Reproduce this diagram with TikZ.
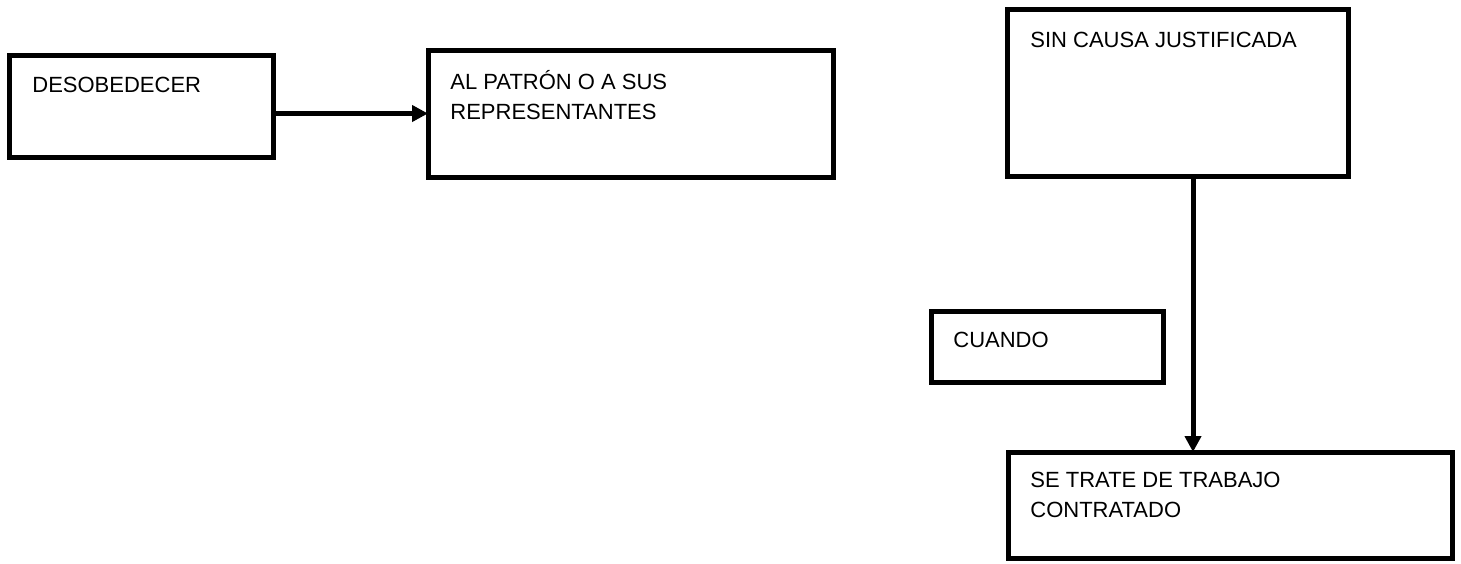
\documentclass[tikz,border=0pt]{standalone}
\usepackage{fontspec}
\setmainfont{Liberation Sans}
\usetikzlibrary{arrows.meta}
\tikzset{
    box/.style={draw, line width=2.5pt, inner sep=0pt, outer sep=0pt},
    txt/.style={inner sep=0pt, anchor=base west, align=left, font=\fontsize{11}{15}\selectfont},
    link/.style={line width=2.5pt, -{Triangle[length=8pt, width=8pt]}}
}
\begin{document}
\begin{tikzpicture}[x=0.5pt, y=-0.5pt]
    \useasboundingbox (0,0) rectangle (1461,563);

    \node[box, minimum width=132pt, minimum height=51pt]   (desobedecer) at (141,106)    {};
    \node[box, minimum width=202.5pt, minimum height=63.5pt] (patron)    at (630.5,113.5) {};
    \node[box, minimum width=170.5pt, minimum height=83.5pt] (causa)     at (1177.5,92.5) {};
    \node[box, minimum width=116pt, minimum height=35.5pt]  (cuando)     at (1047,346.5)  {};
    \node[box, minimum width=222pt, minimum height=53pt]    (trabajo)    at (1230,505)    {};

    % two-line labels sit on their last baseline
    \node[txt] (desobedecer-t) at (32,92)   {DESOBEDECER};
    \node[txt] (patron-t)      at (450,119) {AL PATRÓN O A SUS\\REPRESENTANTES};
    \node[txt] (causa-t)       at (1030,47) {SIN CAUSA JUSTIFICADA};
    \node[txt] (cuando-t)      at (953,347) {CUANDO};
    \node[txt] (trabajo-t)     at (1030,517) {SE TRATE DE TRABAJO\\CONTRATADO};

    \draw[link] (patron.west -| desobedecer.east) -- (patron.west);
    \coordinate (drop) at (1193,176);
    \draw[link] (drop) -- (drop |- trabajo.north);
\end{tikzpicture}
\end{document}
